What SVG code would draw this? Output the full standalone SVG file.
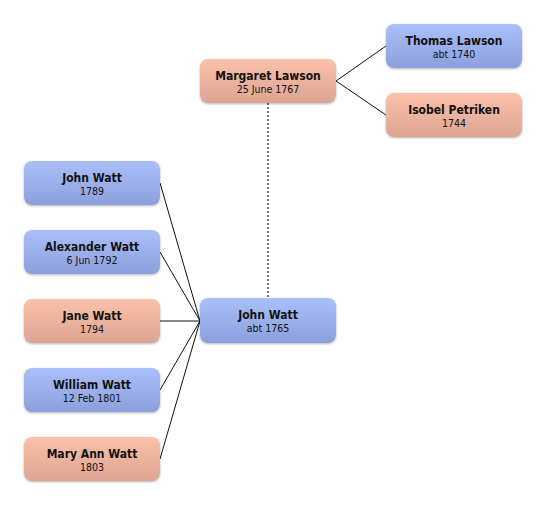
<svg xmlns="http://www.w3.org/2000/svg" width="546" height="506" viewBox="0 0 546 506">
<style>
.n{font-family:"DejaVu Sans Condensed","DejaVu Sans",sans-serif;font-weight:bold;font-size:12px;fill:#111;text-anchor:middle}
.d{font-family:"DejaVu Sans Condensed","DejaVu Sans",sans-serif;font-size:10.5px;fill:#111;text-anchor:middle}
.m rect{fill:url(#gm);filter:url(#sh)}
.f rect{fill:url(#gf);filter:url(#sh)}
.c line{stroke:#111;stroke-width:1}
</style>
<defs>
<linearGradient id="gm" x1="0" y1="0" x2="0" y2="1"><stop offset="0" stop-color="#aac0fa"/><stop offset="1" stop-color="#8c9fdc"/></linearGradient>
<linearGradient id="gf" x1="0" y1="0" x2="0" y2="1"><stop offset="0" stop-color="#fbc0aa"/><stop offset="1" stop-color="#dca592"/></linearGradient>
<filter id="sh" x="-10%" y="-20%" width="120%" height="150%"><feDropShadow dx="0" dy="1" stdDeviation="1.2" flood-color="#000" flood-opacity="0.3"/></filter>
</defs>
<rect width="546" height="506" fill="#fff"/>
<g id="connectors" class="c">
<line x1="268" y1="103" x2="268" y2="298" style="stroke:#777;stroke-width:2;stroke-dasharray:2,2"/>
<line x1="336" y1="81" x2="386" y2="46"/>
<line x1="336" y1="81" x2="386" y2="115"/>
<line x1="160" y1="183" x2="200" y2="321"/>
<line x1="160" y1="252" x2="200" y2="321"/>
<line x1="160" y1="321" x2="200" y2="321"/>
<line x1="160" y1="390" x2="200" y2="321"/>
<line x1="160" y1="459" x2="200" y2="321"/>
</g>
<g id="margaret" class="f"><rect x="200" y="59" width="136" height="44" rx="8"/><text class="n" x="268" y="80">Margaret Lawson</text><text class="d" x="268" y="93">25 June 1767</text></g>
<g id="thomas" class="m"><rect x="386" y="24" width="136" height="44" rx="8"/><text class="n" x="454" y="45">Thomas Lawson</text><text class="d" x="454" y="58">abt 1740</text></g>
<g id="isobel" class="f"><rect x="386" y="93" width="136" height="44" rx="8"/><text class="n" x="454" y="114">Isobel Petriken</text><text class="d" x="454" y="127">1744</text></g>
<g id="johnwatt" class="m"><rect x="200" y="298" width="136" height="45" rx="8"/><text class="n" x="268" y="319">John Watt</text><text class="d" x="268" y="332">abt 1765</text></g>
<g id="john1789" class="m"><rect x="24" y="161" width="136" height="44" rx="8"/><text class="n" x="92" y="182">John Watt</text><text class="d" x="92" y="195">1789</text></g>
<g id="alexander" class="m"><rect x="24" y="230" width="136" height="44" rx="8"/><text class="n" x="92" y="251">Alexander Watt</text><text class="d" x="92" y="264">6 Jun 1792</text></g>
<g id="jane" class="f"><rect x="24" y="299" width="136" height="44" rx="8"/><text class="n" x="92" y="320">Jane Watt</text><text class="d" x="92" y="333">1794</text></g>
<g id="william" class="m"><rect x="24" y="368" width="136" height="44" rx="8"/><text class="n" x="92" y="389">William Watt</text><text class="d" x="92" y="402">12 Feb 1801</text></g>
<g id="maryann" class="f"><rect x="24" y="437" width="136" height="44" rx="8"/><text class="n" x="92" y="458">Mary Ann Watt</text><text class="d" x="92" y="471">1803</text></g>
</svg>
